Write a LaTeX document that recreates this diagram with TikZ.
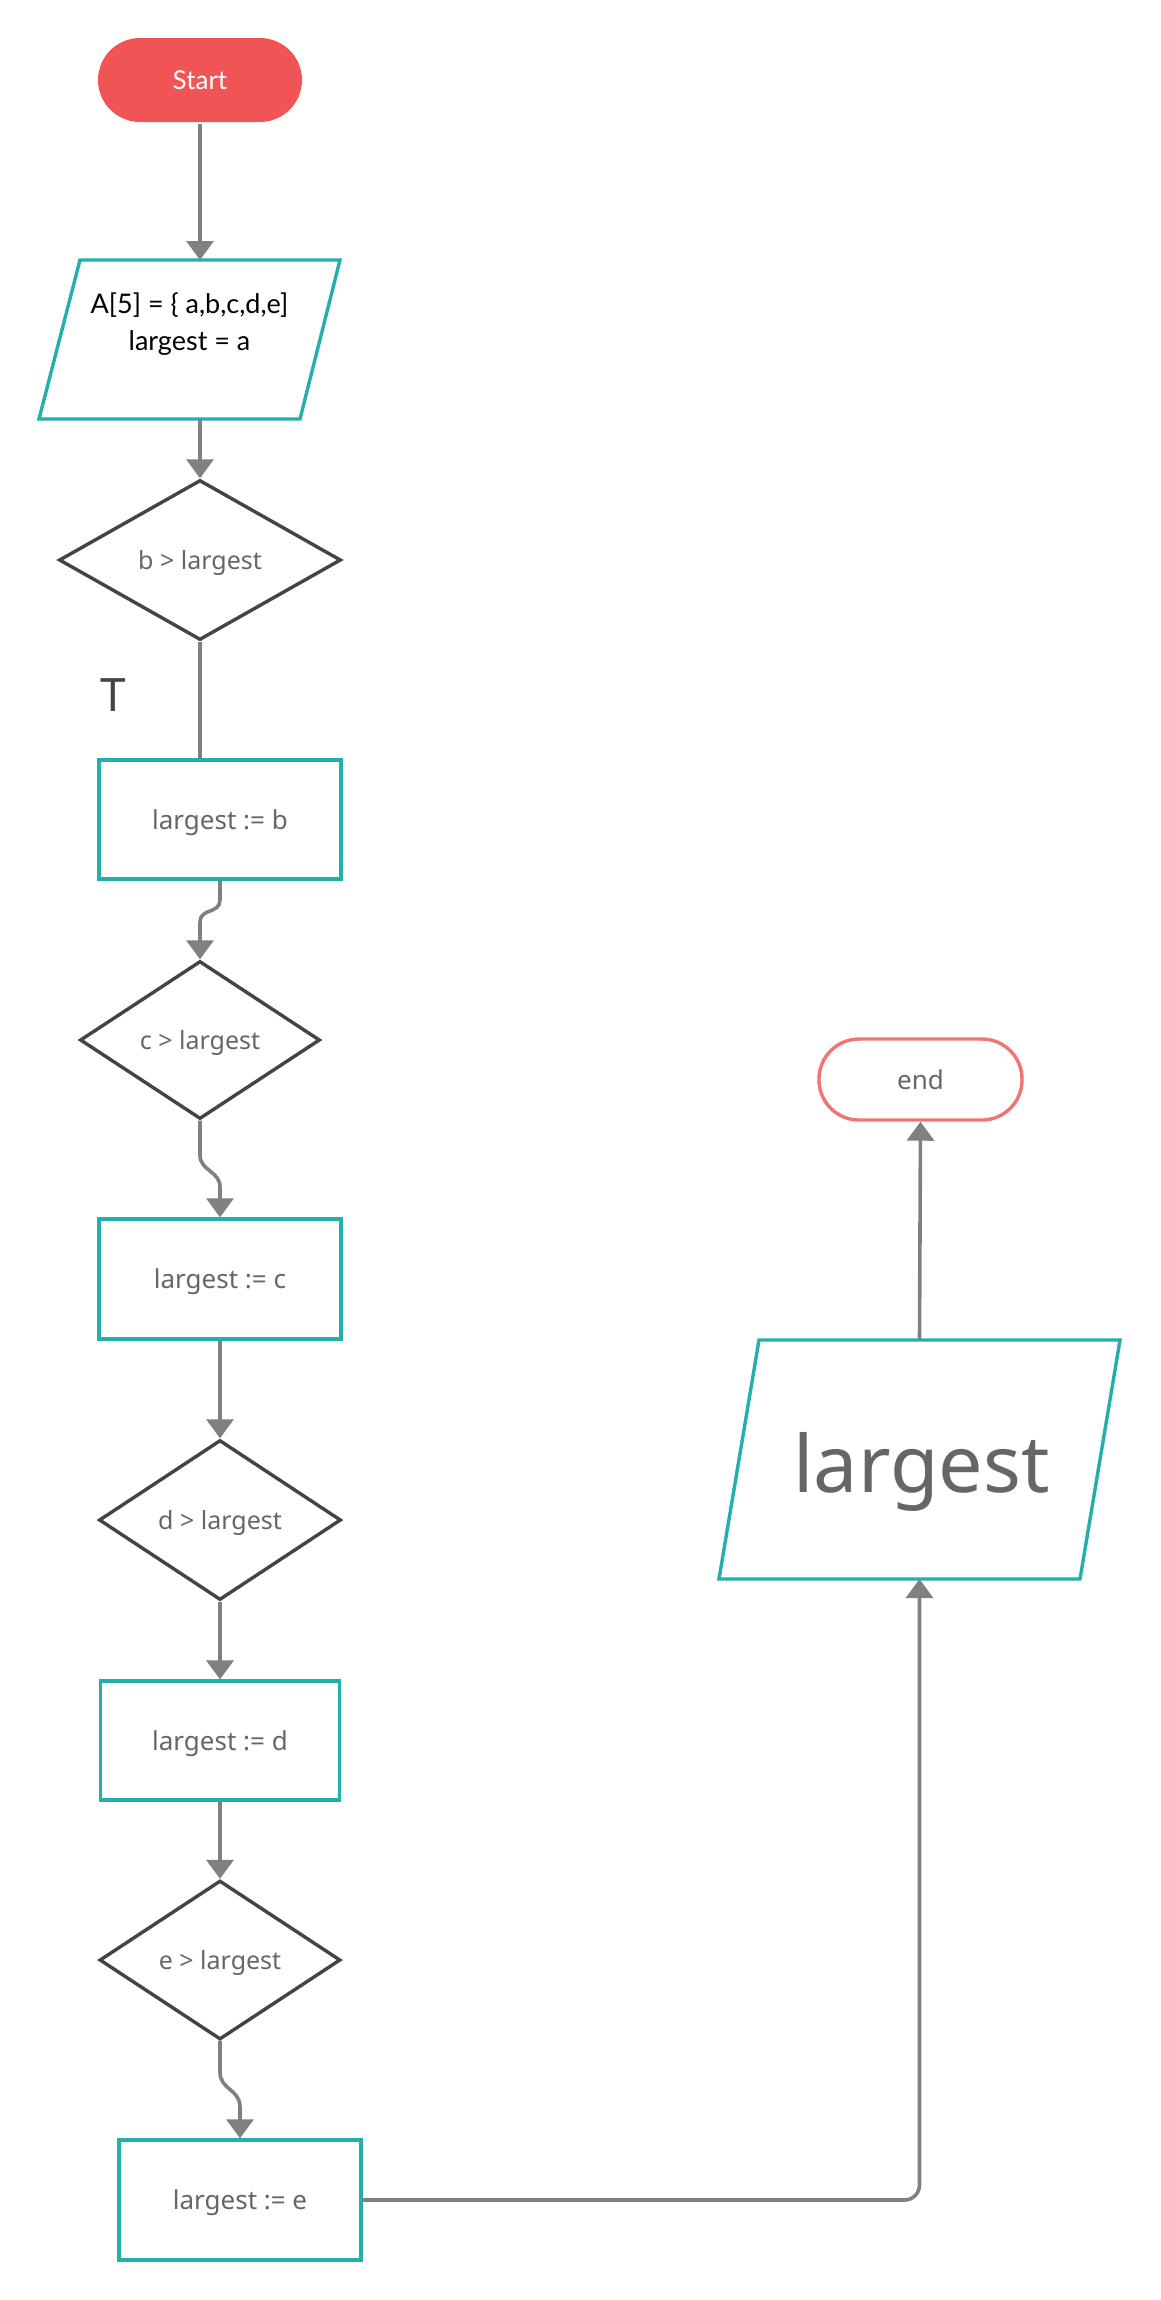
\documentclass[tikz,border=0pt]{standalone}
\usepackage{fontspec}
\usetikzlibrary{shapes.geometric,arrows.meta,calc}
\newfontfamily\notof{Noto Sans}
\newfontfamily\latof{Lato}
\definecolor{teal1}{HTML}{23AFAB}
\definecolor{red1}{HTML}{F05454}
\definecolor{red2}{HTML}{F27373}
\definecolor{dgray}{HTML}{444444}
\definecolor{cgray}{HTML}{808080}
\definecolor{tgray}{HTML}{666666}
\begin{document}
\begin{tikzpicture}[x=1pt,y=-1pt,
  procbox/.style={draw=teal1, line width=3.4pt, minimum width=242pt, minimum height=120pt, inner sep=0pt, text depth=0pt, text=tgray, font=\notof\fontsize{26}{31}\selectfont},
  decbox/.style={diamond, draw=dgray, line width=3.4pt, inner sep=0pt, text depth=0pt, text=tgray, font=\notof\fontsize{25}{30}\selectfont},
  iobox/.style={inner sep=0pt, outer sep=0pt},
  paraline/.style={draw=teal1, line width=3.4pt, line join=miter},
  termbox/.style={inner sep=0pt, line width=3.4pt},
  conn/.style={draw=cgray, line width=3.6pt, -{Triangle[width=27pt,length=19pt]}},
  plainconn/.style={draw=cgray, line width=3.6pt}]

\useasboundingbox (0,0) rectangle (1161,2300);
\fill[white] (0,0) rectangle (1161,2300);

% terminals
\node[termbox, fill=red1, minimum width=204pt, minimum height=84pt, rounded corners=42pt, text=white, font=\latof\fontsize{26}{31}\selectfont] (start) at (200,80) {Start};
\node[termbox, draw=red2, minimum width=203pt, minimum height=81pt, rounded corners=40pt, text=tgray, font=\notof\fontsize{26}{31}\selectfont] (en) at (920.5,1079.5) {end};

% input parallelogram
\node[iobox, minimum width=301pt, minimum height=159pt] (in1) at (189.5,339.5) {};
\draw[paraline] (in1.south west) -- ($(in1.north west)+(41,0)$) -- (in1.north east) -- ($(in1.south east)+(-40,0)$) -- cycle;
\node[align=center, text=black, font=\latof\fontsize{27}{37}\selectfont, inner sep=0pt] (in1t) at (189.5,324.5) {A[5] = \{ a,b,c,d,e]\\largest = a};

% decisions
\node[decbox, minimum width=282pt, minimum height=160pt] (db) at (200,560) {b > largest};
\node[decbox, minimum width=240pt, minimum height=158pt] (dc) at (200,1040) {c > largest};
\node[decbox, minimum width=242pt, minimum height=160pt] (dd) at (220,1520) {d > largest};
\node[decbox, minimum width=241pt, minimum height=159pt] (de) at (220,1960) {e > largest};

% processes
\node[procbox, minimum height=119pt] (bb) at (220,819.5) {largest := b};
\node[procbox] (bc) at (220,1279) {largest := c};
\node[procbox, minimum width=239pt, minimum height=119pt] (bd) at (220,1740.5) {largest := d};
\node[procbox] (be) at (240,2200) {largest := e};

% output parallelogram
\node[iobox, minimum width=401pt, minimum height=239pt] (out) at (919.5,1459.5) {};
\draw[paraline] (out.south west) -- ($(out.north west)+(40,0)$) -- (out.north east) -- ($(out.south east)+(-40,0)$) -- cycle;
\node[anchor=base, text=tgray, font=\notof\fontsize{79}{90}\selectfont, inner sep=0pt] (outt) at (921.5,1492) {largest};

% label
\node[text=dgray, font=\notof\fontsize{46}{50}\selectfont, inner sep=0pt] (tlab) at (113,695) {T};

% connectors
\draw[conn] (start.south) -- (start.south |- in1.north);
\draw[conn] (start.south |- in1.south) -- (db.north);
\draw[plainconn] (db.south) -- (db.south |- bb.north);
\draw[conn] (bb.south) -- (220,900) .. controls (220,914) and (200,908) .. (200,922) -- (dc.north);
\draw[conn] (dc.south) -- (200,1155) .. controls (200,1171) and (220,1171) .. (220,1187) -- (bc.north);
\draw[conn] (bc.south) -- (dd.north);
\draw[conn] (dd.south) -- (bd.north);
\draw[conn] (bd.south) -- (de.north);
\draw[conn] (de.south) -- (220,2072) .. controls (220,2090) and (240,2089) .. (240,2107) -- (be.north);
\draw[conn, rounded corners=15pt] (be.east) -- (be.east -| out.south) -- (out.south);
\draw[conn] (out.north) -- (en.south);
\end{tikzpicture}
\end{document}
